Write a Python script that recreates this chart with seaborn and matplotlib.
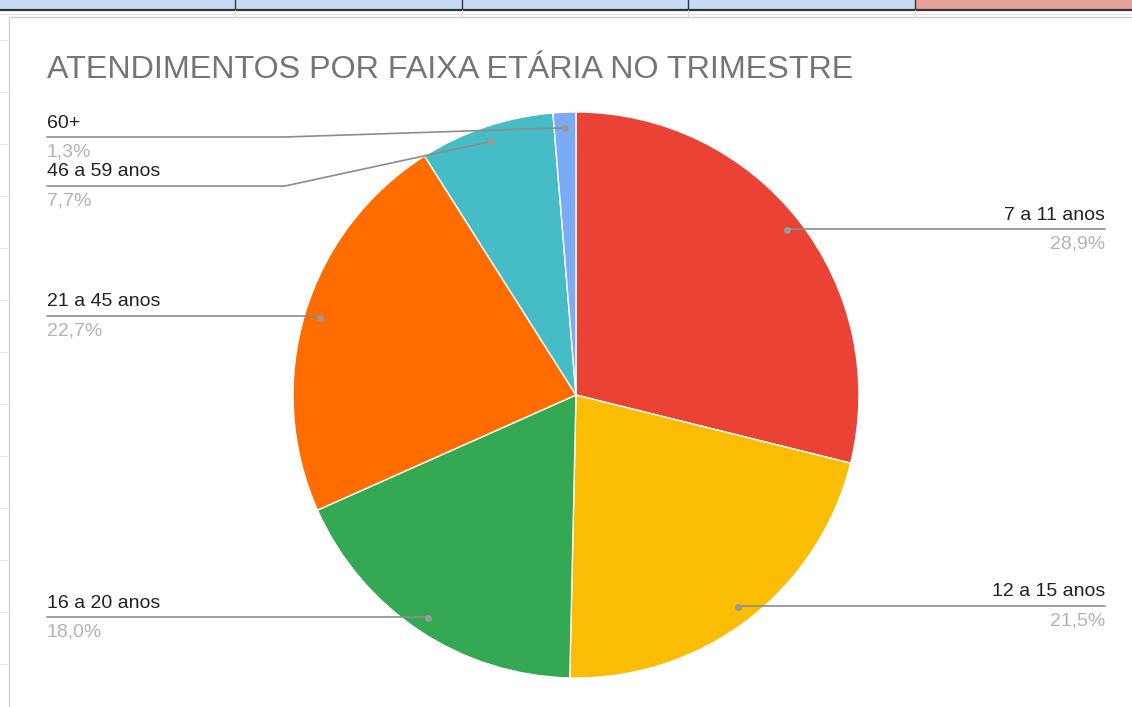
import numpy as np
import matplotlib
matplotlib.use("Agg")
import matplotlib.pyplot as plt
import seaborn as sns
from matplotlib.patches import Rectangle

# ---- data ----
categories = ["7 a 11 anos", "12 a 15 anos", "16 a 20 anos", "21 a 45 anos", "46 a 59 anos", "60+"]
values = [28.9, 21.5, 18.0, 22.7, 7.7, 1.3]
colors = ["#EA4335", "#FBBC04", "#34A853", "#FF6D01", "#46BDC6", "#7BAAF7"]
title = "ATENDIMENTOS POR FAIXA ETÁRIA NO TRIMESTRE"

sns.set_theme(style="white")
plt.rcParams["font.family"] = ["Liberation Sans", "DejaVu Sans"]

W, H = 1132, 707
fig = plt.figure(figsize=(W / 100, H / 100), dpi=100)
fig.patch.set_facecolor("white")
ax = fig.add_axes([0, 0, 1, 1])

def Y(y):  # pixel-from-top to data y
    return H - y

# spreadsheet decoration
ax.add_patch(Rectangle((0, Y(10)), 915, 10, facecolor="#c9daf8", edgecolor="none", zorder=0))
ax.add_patch(Rectangle((915, Y(10)), W - 915, 10, facecolor="#e6a39c", edgecolor="none", zorder=0))
ax.plot([0, W], [Y(10), Y(10)], color="#333333", lw=1.6, zorder=1)
for xc in [235, 462, 688, 915]:
    ax.plot([xc, xc], [Y(0), Y(10)], color="#333333", lw=1.0, zorder=1)
    ax.plot([xc, xc], [Y(10), Y(16)], color="#d9d9d9", lw=0.8, zorder=1)
ax.plot([0, W], [Y(14), Y(14)], color="#e0e0e0", lw=0.8, zorder=1)
ax.add_patch(Rectangle((9, Y(H + 5)), W, H + 5 - 17, facecolor="white", edgecolor="#d0d0d0", lw=1.0, zorder=1))
for yr in range(40, H, 52):
    ax.plot([0, 9], [Y(yr), Y(yr)], color="#e6e6e6", lw=0.8, zorder=1)

cx, cy, R = 576, 395, 283
wedges, _ = ax.pie(values, colors=colors, startangle=90, counterclock=False,
                   center=(cx, Y(cy)), radius=R,
                   wedgeprops=dict(edgecolor="white", linewidth=1.0, zorder=2))

ax.set_xlim(0, W)
ax.set_ylim(0, H)
ax.set_aspect("equal")
ax.axis("off")

ax.text(47, Y(70), title, fontsize=23.2, color="#757575", ha="left", va="center", zorder=5)

# label layout: (side, line y px, elbow x or None)
layout = {
    "7 a 11 anos": ("right", 229, None),
    "12 a 15 anos": ("right", 606, None),
    "16 a 20 anos": ("left", 617, None),
    "21 a 45 anos": ("left", 316, None),
    "46 a 59 anos": ("left", 186, 285),
    "60+": ("left", 137, 285),
}
line_c = "#8c8c8c"
total = sum(values)
for w, cat, v in zip(wedges, categories, values):
    mid = np.deg2rad((w.theta1 + w.theta2) / 2)
    dx = cx + 0.945 * R * np.cos(mid)
    dy = Y(cy) + 0.945 * R * np.sin(mid)
    side, ly, elbow = layout[cat]
    if side == "right":
        xs, ys = [dx, 1105], [dy, Y(ly)]
        if abs(dy - Y(ly)) < 3:
            ys = [Y(ly), Y(ly)]
        ax.plot(xs, ys, color=line_c, lw=1.2, zorder=4)
        tx, ha = 1105, "right"
    else:
        if elbow is None:
            ax.plot([47, dx], [Y(ly), Y(ly)], color=line_c, lw=1.2, zorder=4)
        else:
            ax.plot([47, elbow, dx], [Y(ly), Y(ly), dy], color=line_c, lw=1.2, zorder=4)
        tx, ha = 47, "left"
    ax.plot([dx], [dy], marker="o", ms=4, color="#999999", zorder=5)
    pct = f"{v / total * 100:.1f}".replace(".", ",") + "%"
    ax.text(tx, Y(ly - 14), cat, fontsize=14, color="#222222", ha=ha, va="center", zorder=5)
    ax.text(tx, Y(ly + 15), pct, fontsize=14, color="#b3b3b3", ha=ha, va="center", zorder=5)

fig.savefig("out.png", dpi=100)
